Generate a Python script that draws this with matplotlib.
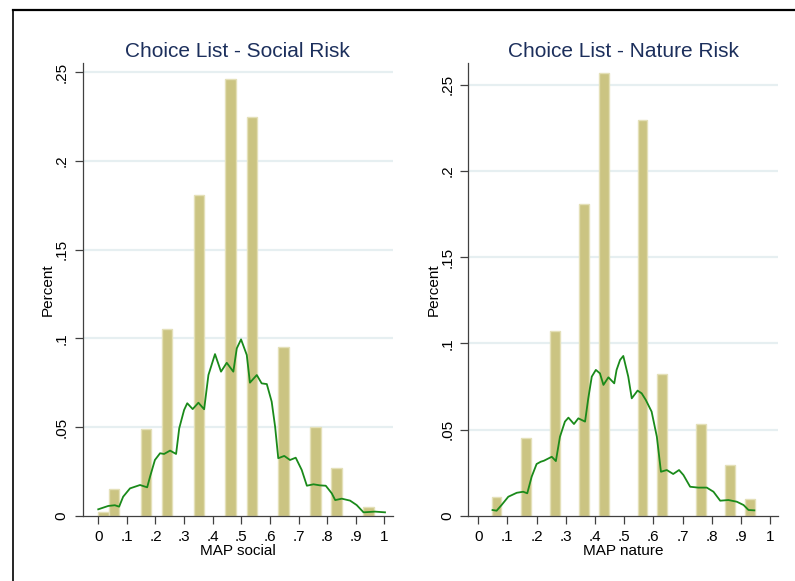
import matplotlib
matplotlib.use("Agg")
import matplotlib.pyplot as plt
from matplotlib.lines import Line2D

plt.rcParams['font.family'] = ['Liberation Sans', 'DejaVu Sans']

# ---- Social risk panel data ----
social_bar_x = [0.0185, 0.0556, 0.1667, 0.2407, 0.3519, 0.4630, 0.5370, 0.6481, 0.7593, 0.8333, 0.9444]
social_bar_h = [0.002, 0.015, 0.049, 0.105, 0.181, 0.246, 0.225, 0.095, 0.050, 0.027, 0.0047]
social_bin_width = 1 / 27

social_curve_x = [0.0, 0.035, 0.058, 0.073, 0.087, 0.111, 0.146, 0.171, 0.181, 0.198, 0.216, 0.230,
                  0.251, 0.272, 0.283, 0.300, 0.311, 0.330, 0.350, 0.370, 0.385, 0.408, 0.429, 0.449,
                  0.472, 0.484, 0.499, 0.519, 0.530, 0.554, 0.571, 0.589, 0.606, 0.618, 0.629, 0.650,
                  0.670, 0.690, 0.711, 0.729, 0.752, 0.775, 0.795, 0.816, 0.828, 0.851, 0.880, 0.903,
                  0.927, 0.967, 1.002]
social_curve_y = [0.0036, 0.0055, 0.0059, 0.0051, 0.0107, 0.0154, 0.0173, 0.016, 0.022, 0.0314, 0.0352, 0.0348,
                  0.0367, 0.0348, 0.0493, 0.0596, 0.0634, 0.0601, 0.0637, 0.060, 0.0793, 0.0911, 0.0812, 0.0862,
                  0.0812, 0.0943, 0.0994, 0.0906, 0.075, 0.0793, 0.0746, 0.0742, 0.0643, 0.0502, 0.0324, 0.0337,
                  0.0314, 0.0327, 0.0258, 0.0169, 0.0177, 0.0171, 0.0169, 0.0126, 0.0088, 0.0096, 0.0085, 0.006,
                  0.0019, 0.0023, 0.0019]

# ---- Nature risk panel data ----
nature_bar_x = [0.063, 0.163, 0.263, 0.363, 0.430, 0.563, 0.630, 0.763, 0.863, 0.930]
nature_bar_h = [0.0107, 0.0453, 0.1072, 0.1807, 0.257, 0.2295, 0.0821, 0.0532, 0.0294, 0.0097]
nature_bin_width = 1 / 30

nature_curve_x = [0.049, 0.063, 0.080, 0.103, 0.132, 0.154, 0.168, 0.183, 0.200, 0.214, 0.225, 0.252,
                  0.266, 0.280, 0.297, 0.309, 0.328, 0.343, 0.366, 0.377, 0.389, 0.403, 0.417, 0.429,
                  0.446, 0.466, 0.474, 0.486, 0.497, 0.514, 0.526, 0.546, 0.560, 0.574, 0.594, 0.612,
                  0.626, 0.646, 0.668, 0.688, 0.703, 0.726, 0.754, 0.783, 0.806, 0.829, 0.857, 0.886,
                  0.909, 0.926, 0.946]
nature_curve_y = [0.0033, 0.0029, 0.0062, 0.011, 0.0133, 0.0139, 0.013, 0.0226, 0.030, 0.0313, 0.0319, 0.0342,
                  0.0317, 0.0458, 0.0546, 0.0569, 0.0532, 0.0565, 0.0546, 0.0681, 0.0807, 0.0846, 0.0826, 0.0759,
                  0.0803, 0.0768, 0.0846, 0.0904, 0.0927, 0.0807, 0.0681, 0.0726, 0.071, 0.0672, 0.0604, 0.0458,
                  0.0255, 0.0265, 0.0242, 0.0265, 0.0236, 0.0168, 0.0163, 0.0163, 0.0139, 0.0087, 0.0091, 0.0081,
                  0.0062, 0.0033, 0.0031]

x_ticks = [0, 0.1, 0.2, 0.3, 0.4, 0.5, 0.6, 0.7, 0.8, 0.9, 1.0]
x_tick_labels = ["0", ".1", ".2", ".3", ".4", ".5", ".6", ".7", ".8", ".9", "1"]
y_ticks = [0, 0.05, 0.1, 0.15, 0.2, 0.25]
y_tick_labels = ["0", ".05", ".1", ".15", ".2", ".25"]

BAR = "#cbc482"
BAR_EDGE = "#e4e0b8"
LINE = "#1a8a1a"
GRID = "#e6eff1"
TITLE = "#1c2f5c"
AXIS = "#404040"

fig = plt.figure(figsize=(7.95, 5.81), dpi=100)
W, H = 795, 581


def panel(rect, bx, bh, bw, cx, cy, title, xlabel, xlim, ytop):
    ax = fig.add_axes(rect)
    for y in y_ticks[1:]:
        ax.axhline(y, color=GRID, lw=1.6, zorder=0)
    ax.bar(bx, bh, width=bw, color=BAR, edgecolor=BAR_EDGE, linewidth=1.0, zorder=2)
    ax.plot(cx, cy, color=LINE, lw=1.3, zorder=3)
    ax.set_xlim(*xlim)
    ax.set_ylim(0, ytop)
    ax.set_xticks(x_ticks)
    ax.set_xticklabels(x_tick_labels, fontsize=11)
    ax.set_yticks(y_ticks)
    ax.set_yticklabels(y_tick_labels, fontsize=11, rotation=90, va='center')
    ax.tick_params(axis='both', length=6, width=0.9, color=AXIS, pad=4)
    for s in ('top', 'right'):
        ax.spines[s].set_visible(False)
    for s in ('left', 'bottom'):
        ax.spines[s].set_color(AXIS)
        ax.spines[s].set_linewidth(0.9)
    ax.set_title(title, fontsize=15, color=TITLE, pad=4.5)
    ax.set_xlabel(xlabel, fontsize=11, labelpad=0)
    ax.set_ylabel("Percent", fontsize=11, labelpad=0)
    return ax


def frac_rect(x0, x1, ytop_px, ybot_px):
    return [x0 / W, 1 - ybot_px / H, (x1 - x0) / W, (ybot_px - ytop_px) / H]


panel(frac_rect(82.5, 393.3, 63, 515.7), social_bar_x, social_bar_h, social_bin_width,
      social_curve_x, social_curve_y, "Choice List - Social Risk", "MAP social",
      (-0.055, 1.031), 0.2552)
panel(frac_rect(468.3, 777.7, 63, 515.7), nature_bar_x, nature_bar_h, nature_bin_width,
      nature_curve_x, nature_curve_y, "Choice List - Nature Risk", "MAP nature",
      (-0.034, 1.026), 0.2627)

# outer frame lines along the top and left edge
fig.add_artist(Line2D([12.5 / W, 1.0], [1 - 9.5 / H, 1 - 9.5 / H], color='black', lw=1.6,
                      transform=fig.transFigure))
fig.add_artist(Line2D([12.5 / W, 12.5 / W], [0.0, 1 - 9.5 / H], color='black', lw=1.2,
                      transform=fig.transFigure))

fig.savefig("out.png", dpi=100, facecolor='white')
